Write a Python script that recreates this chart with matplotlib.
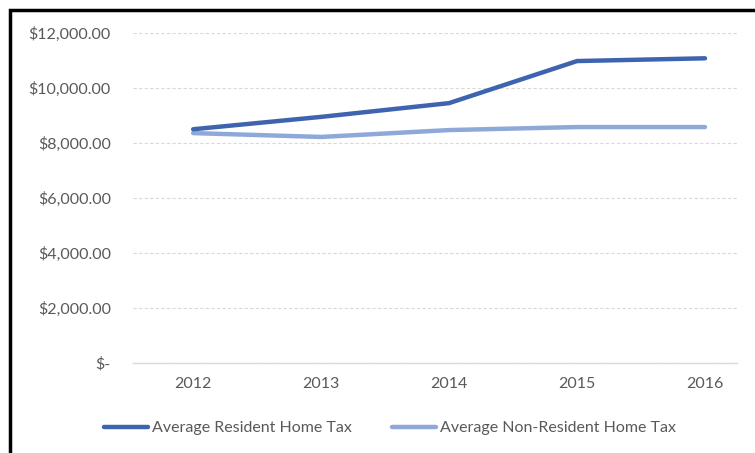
import matplotlib.pyplot as plt
from matplotlib.patches import Rectangle
from matplotlib.ticker import FuncFormatter

years = ['2012', '2013', '2014', '2015', '2016']
resident_tax = [8500, 8950, 9450, 10980, 11080]
non_resident_tax = [8360, 8220, 8470, 8580, 8580]

plt.rcParams['font.family'] = ['Lato', 'DejaVu Sans']
text_color = '#595959'

fig = plt.figure(figsize=(7.55, 4.53), dpi=100)
ax = fig.add_axes([133 / 755, 1 - 363 / 453, (737 - 133) / 755, (363 - 33) / 453])

x = range(len(years))
ax.plot(x, resident_tax, color='#3F64AF', lw=3.2, solid_capstyle='round',
        label='Average Resident Home Tax', zorder=3)
ax.plot(x, non_resident_tax, color='#8FA8DA', lw=3.2, solid_capstyle='round',
        label='Average Non-Resident Home Tax', zorder=2)

ax.set_ylim(0, 12000)
ax.set_yticks(range(0, 12001, 2000))
ax.set_xlim(-0.47, 4.25)
ax.set_xticks(list(x))
ax.set_xticklabels(years)


def money(v, pos):
    if v == 0:
        return '$-'
    return '${:,.2f}'.format(v)


ax.yaxis.set_major_formatter(FuncFormatter(money))
ax.tick_params(length=0, colors=text_color, labelsize=11.5)
ax.tick_params(axis='y', pad=16)
ax.tick_params(axis='x', pad=10)
ax.grid(axis='y', color='#D9D9D9', ls=(0, (3, 2)), lw=0.8)
for s in ['top', 'right', 'left']:
    ax.spines[s].set_visible(False)
ax.spines['bottom'].set_color('#D9D9D9')
ax.spines['bottom'].set_linewidth(1)
ax.set_axisbelow(True)

leg = fig.legend(loc='center', bbox_to_anchor=(390 / 755, 1 - 428 / 453), ncol=2,
                 frameon=False, fontsize=11.5, handlelength=2.75, handletextpad=0.25,
                 columnspacing=2.5, labelcolor=text_color)

# partial black frame around the chart (left and top edges)
fig.add_artist(Rectangle((10 / 755, -0.1), 1.2, 1 - 10 / 453 + 0.1,
                         transform=fig.transFigure, fill=False,
                         edgecolor='black', lw=2.5))

fig.savefig('out.png', dpi=100)
